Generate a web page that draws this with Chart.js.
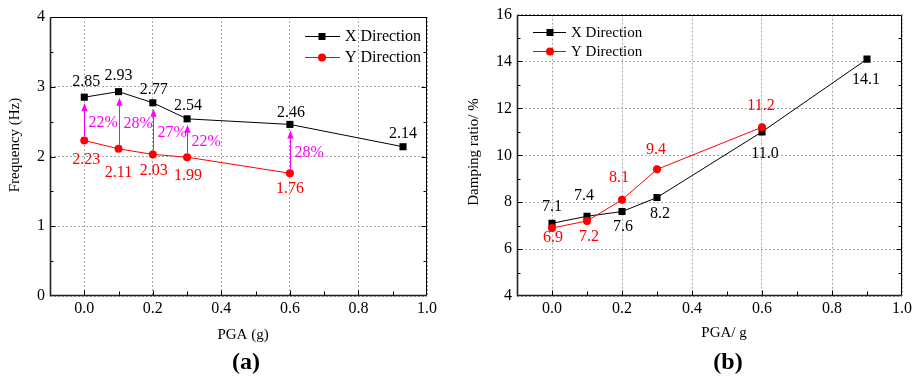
<!DOCTYPE html>
<html><head><meta charset="utf-8">
<script src="https://cdn.jsdelivr.net/npm/chart.js@4"></script>
<style>
html,body{margin:0;padding:0;background:#fff;}
#wrap{position:relative;width:916px;height:381px;overflow:hidden;}
canvas{position:absolute;top:0;}
</style></head>
<body><div id="wrap"><canvas id="ca" width="458" height="381" style="left:0"></canvas><canvas id="cb" width="458" height="381" style="left:458px"></canvas></div>
<script>
const FONT = '"Liberation Serif","Times New Roman",serif';

// ---- Panel (a): frequency ----
const pgaA_X = [0, 0.1, 0.2, 0.3, 0.6, 0.93];
const freqX = [2.85, 2.93, 2.77, 2.54, 2.46, 2.14];
const pgaA_Y = [0, 0.1, 0.2, 0.3, 0.6];
const freqY = [2.23, 2.11, 2.03, 1.99, 1.76];
const freqDrop = ['22%', '28%', '27%', '22%', '28%'];
const xTicks = [0, 0.2, 0.4, 0.6, 0.8, 1.0];
const yTicksA = [0, 1, 2, 3, 4];

// ---- Panel (b): damping ratio ----
const pgaB_X = [0, 0.1, 0.2, 0.3, 0.6, 0.9];
const dampX = [7.1, 7.4, 7.6, 8.2, 11.0, 14.1];
const pgaB_Y = [0, 0.1, 0.2, 0.3, 0.6];
const dampY = [6.9, 7.2, 8.1, 9.4, 11.2];
const yTicksB = [4, 6, 8, 10, 12, 14, 16];

const RED = '#ff0000', MAG = '#ff00ff';

function pts(xs, ys) { return xs.map((x, i) => ({ x: x, y: ys[i] })); }

function makeScales(xr, yr, xt, yt, yW, xH, yFmt) {
  const tickFont = { family: FONT, size: 16 };
  return {
    x: {
      type: 'linear', min: xr[0], max: xr[1],
      afterBuildTicks: s => { s.ticks = xt.map(v => ({ value: v })); },
      afterFit: s => { s.height = xH; },
      ticks: { padding: 3, color: '#000', font: tickFont, autoSkip: false, maxRotation: 0, callback: v => Number(v).toFixed(1) },
      grid: { color: '#a8a8a8', lineWidth: 1, drawTicks: false },
      border: { display: false, dash: [2, 2] }
    },
    y: {
      type: 'linear', min: yr[0], max: yr[1],
      afterBuildTicks: s => { s.ticks = yt.map(v => ({ value: v })); },
      afterFit: s => { s.width = yW; },
      ticks: { padding: 5, color: '#000', font: tickFont, autoSkip: false, callback: yFmt },
      grid: { color: '#a8a8a8', lineWidth: 1, drawTicks: false },
      border: { display: false, dash: [2, 2] }
    }
  };
}

function decor(o) {
  return {
    id: 'decor',
    afterDraw(chart) {
      const ctx = chart.ctx, a = chart.chartArea, xs = chart.scales.x, ys = chart.scales.y;
      ctx.save();
      // frame
      ctx.strokeStyle = '#000'; ctx.lineWidth = 1; ctx.setLineDash([]);
      const L = Math.round(a.left) + 0.5, R = Math.round(a.right) - 0.5, T = Math.round(a.top) + 0.5, B = Math.round(a.bottom) - 0.5;
      ctx.beginPath();
      ctx.moveTo(L, T); ctx.lineTo(R, T); ctx.lineTo(R, B);
      ctx.stroke();
      ctx.lineWidth = 1.6; ctx.strokeStyle = '#222';
      ctx.beginPath();
      ctx.moveTo(L, T); ctx.lineTo(L, B); ctx.lineTo(R, B);
      ctx.stroke();
      ctx.lineWidth = 1; ctx.strokeStyle = '#000';
      // inward ticks
      ctx.beginPath();
      const xmin = xs.min, xmax = xs.max;
      for (let k = Math.ceil(xmin / o.xMinor - 1e-9); k * o.xMinor <= xmax + 1e-9; k++) {
        const v = k * o.xMinor;
        const px = Math.round(xs.getPixelForValue(v)) + 0.5;
        if (px <= L + 1 || px >= R - 1) continue;
        const major = xTicks.some(t => Math.abs(t - v) < 1e-6);
        const len = major ? 5 : 4;
        ctx.moveTo(px, B); ctx.lineTo(px, B - len);
      }
      for (let k = Math.ceil(ys.min / o.yMinor - 1e-9); k * o.yMinor <= ys.max + 1e-9; k++) {
        const v = k * o.yMinor;
        const py = Math.round(ys.getPixelForValue(v)) + 0.5;
        if (py <= T + 1 || py >= B - 1) continue;
        const major = o.yMajor.some(t => Math.abs(t - v) < 1e-6);
        const len = major ? 5 : 3;
        ctx.moveTo(L, py); ctx.lineTo(L + len, py);
        ctx.moveTo(R, py); ctx.lineTo(R - len, py);
      }
      ctx.stroke();

      // arrows (panel a)
      if (o.arrows) {
        ctx.strokeStyle = MAG; ctx.fillStyle = MAG; ctx.lineWidth = 1;
        ctx.font = '16px ' + FONT; ctx.textAlign = 'left'; ctx.textBaseline = 'middle';
        o.arrows.forEach(ar => {
          const px = Math.round(xs.getPixelForValue(ar.x)) + 0.5;
          const yTail = ys.getPixelForValue(ar.from) - 4;
          const yTip = ys.getPixelForValue(ar.to) + 6;
          ctx.beginPath(); ctx.moveTo(px, yTail); ctx.lineTo(px, yTip + 6); ctx.stroke();
          ctx.beginPath(); ctx.moveTo(px, yTip); ctx.lineTo(px - 3.2, yTip + 8); ctx.lineTo(px + 3.2, yTip + 8); ctx.closePath(); ctx.fill();
          ctx.fillText(ar.text, px + 4, (yTail + yTip) / 2 + 3);
        });
      }

      // data labels
      ctx.font = '16px ' + FONT; ctx.textAlign = 'center'; ctx.textBaseline = 'middle';
      o.labels.forEach(lb => {
        const meta = chart.getDatasetMeta(lb.ds);
        const data = chart.data.datasets[lb.ds].data;
        ctx.fillStyle = lb.color;
        meta.data.forEach((el, j) => {
          ctx.fillText(lb.fmt(data[j].y), el.x + lb.dx[j], el.y + lb.dy[j]);
        });
      });

      // legend
      const lg = o.legend;
      ctx.font = lg.size + 'px ' + FONT; ctx.textAlign = 'left'; ctx.textBaseline = 'middle';
      chart.data.datasets.forEach((ds, i) => {
        const y = lg.rows[i];
        ctx.strokeStyle = ds.borderColor; ctx.lineWidth = 1;
        ctx.beginPath(); ctx.moveTo(lg.x0, y + 0.5); ctx.lineTo(lg.x1, y + 0.5); ctx.stroke();
        ctx.fillStyle = ds.backgroundColor;
        if (ds.pointStyle === 'rect') { ctx.fillRect(lg.xm - 3.5, y - 3, 7, 7); }
        else { ctx.beginPath(); ctx.arc(lg.xm, y + 0.5, 4, 0, Math.PI * 2); ctx.fill(); }
        ctx.fillStyle = '#000';
        ctx.fillText(ds.label, lg.tx, y + 1);
      });

      // titles
      o.titles.forEach(t => {
        ctx.save();
        ctx.fillStyle = '#000';
        ctx.font = (t.bold ? 'bold ' : '') + t.size + 'px ' + FONT;
        ctx.textAlign = 'center'; ctx.textBaseline = 'middle';
        ctx.translate(t.x, t.y);
        if (t.rot) ctx.rotate(-Math.PI / 2);
        ctx.fillText(t.text, 0, 0);
        ctx.restore();
      });
      ctx.restore();
    }
  };
}

function datasets(xX, yX, xY, yY) {
  return [
    { label: 'X Direction', data: pts(xX, yX), borderColor: '#000', backgroundColor: '#000', borderWidth: 1,
      pointStyle: 'rect', pointRadius: 5, pointHoverRadius: 5, pointBorderWidth: 0, tension: 0, order: 1 },
    { label: 'Y Direction', data: pts(xY, yY), borderColor: RED, backgroundColor: RED, borderWidth: 1,
      pointStyle: 'circle', pointRadius: 4, pointHoverRadius: 4, pointBorderWidth: 0, tension: 0, order: 0 }
  ];
}

const common = { responsive: false, animation: false, devicePixelRatio: 1, events: [] };

new Chart(document.getElementById('ca'), {
  type: 'line',
  data: { datasets: datasets(pgaA_X, freqX, pgaA_Y, freqY) },
  options: Object.assign({}, common, {
    layout: { padding: { left: 0, top: 17, right: 31, bottom: 0 } },
    scales: makeScales([-0.1, 1.0], [0, 4], xTicks, yTicksA, 50, 85, v => String(v)),
    plugins: { legend: { display: false }, title: { display: false }, tooltip: { enabled: false } }
  }),
  plugins: [decor({
    xMinor: 0.1, yMinor: 0.5, yMajor: yTicksA,
    arrows: freqDrop.map((t, i) => ({ x: pgaA_Y[i], from: freqY[i], to: freqX[i], text: t })),
    labels: [
      { ds: 0, color: '#000', fmt: v => v.toFixed(2), dx: [2, 0, 1, 1, 1, 0], dy: [-15, -16, -13, -13, -12, -13] },
      { ds: 1, color: RED, fmt: v => v.toFixed(2), dx: [2, 0, 1, 1, 0], dy: [19, 24, 16, 19, 16] }
    ],
    legend: { x0: 305, x1: 340, xm: 322, tx: 345, rows: [36, 57], size: 16 },
    titles: [
      { text: 'Frequency (Hz)', x: 15, y: 145, rot: true, size: 15 },
      { text: 'PGA (g)', x: 243, y: 335, size: 15 },
      { text: '(a)', x: 246, y: 363, size: 24, bold: true }
    ]
  })]
});

new Chart(document.getElementById('cb'), {
  type: 'line',
  data: { datasets: datasets(pgaB_X, dampX, pgaB_Y, dampY) },
  options: Object.assign({}, common, {
    layout: { padding: { left: 0, top: 11, right: 14, bottom: 0 } },
    scales: makeScales([-0.1, 1.0], [4, 16], xTicks, yTicksB, 59, 85, v => String(v)),
    plugins: { legend: { display: false }, title: { display: false }, tooltip: { enabled: false } }
  }),
  plugins: [decor({
    xMinor: 0.1, yMinor: 1, yMajor: yTicksB,
    labels: [
      { ds: 0, color: '#000', fmt: v => v.toFixed(1), dx: [0, -3, 1, 3, 3, -1], dy: [-17, -20, 15, 16, 22, 21] },
      { ds: 1, color: RED, fmt: v => v.toFixed(1), dx: [1, 2, -3, -1, -1], dy: [10, 16, -22, -20, -21] }
    ],
    legend: { x0: 75, x1: 108, xm: 92, tx: 113, rows: [32, 51], size: 15 },
    titles: [
      { text: 'Damping ratio/ %', x: 16, y: 152, rot: true, size: 15 },
      { text: 'PGA/ g', x: 266, y: 333, size: 15 },
      { text: '(b)', x: 270, y: 363, size: 24, bold: true }
    ]
  })]
});
</script>
</body></html>
